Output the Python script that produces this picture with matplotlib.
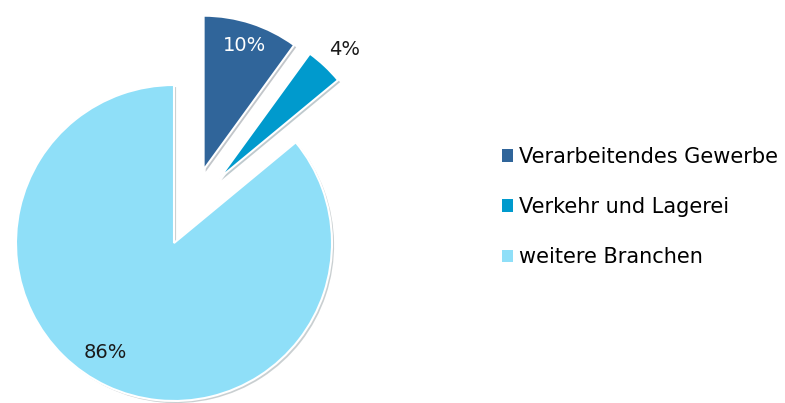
import numpy as np
import matplotlib.pyplot as plt
import matplotlib.patheffects as pe
from matplotlib.patches import Patch

labels = ['Verarbeitendes Gewerbe', 'Verkehr und Lagerei', 'weitere Branchen']
shares = [10, 4, 86]
colors = ['#30659A', '#009ACD', '#8FDFF8']
explode = [0.5, 0.5, 0.0]        # fraction of radius
explode_dir = [68, 55, None]     # direction of the pull-out, degrees

plt.rcParams['font.family'] = ['DejaVu Sans']

fig = plt.figure(figsize=(7.85, 4.03), dpi=100)
ax = fig.add_axes([0, 0, 1, 1])

R = 158
C = (174, 160)
shadow = [pe.SimplePatchShadow(offset=(1.5, -1.5), alpha=0.25), pe.Normal()]
wedges, texts, autotexts = ax.pie(
    shares, colors=colors, startangle=90, counterclock=False,
    center=C, radius=R, autopct='%1.0f%%', pctdistance=0.8,
    wedgeprops=dict(edgecolor='white', linewidth=1.5, path_effects=shadow),
    textprops=dict(fontsize=14, color='#1a1a1a'))

# pull out the two small slices like Excel does
for w, t, e, d in zip(wedges, autotexts, explode, explode_dir):
    if not e:
        continue
    a = np.deg2rad(d)
    w.set_center((C[0] + e * R * np.cos(a), C[1] + e * R * np.sin(a)))
    w.set_radius(R * 0.975)

autotexts[0].set_color('white')
# label placement: (distance in radii, angle shift in degrees)
for i, (dist, shift) in enumerate([(0.85, 0), (1.17, -1), (0.82, -7)]):
    w = wedges[i]
    ang = np.deg2rad((w.theta1 + w.theta2) / 2 + shift)
    cx, cy = w.center
    autotexts[i].set_position((cx + dist * w.r * np.cos(ang), cy + dist * w.r * np.sin(ang)))

ax.set_xlim(0, 785)
ax.set_ylim(0, 403)
ax.set_aspect('equal')
ax.axis('off')

handles = [Patch(facecolor=c, edgecolor='none') for c in colors]
fig.legend(handles, labels, loc='center left', bbox_to_anchor=(483 / 785, 1 - 207 / 403),
           frameon=False, fontsize=15, handlelength=0.55, handleheight=0.55,
           handletextpad=0.3, labelspacing=1.45)

fig.savefig('out.png', dpi=100)
